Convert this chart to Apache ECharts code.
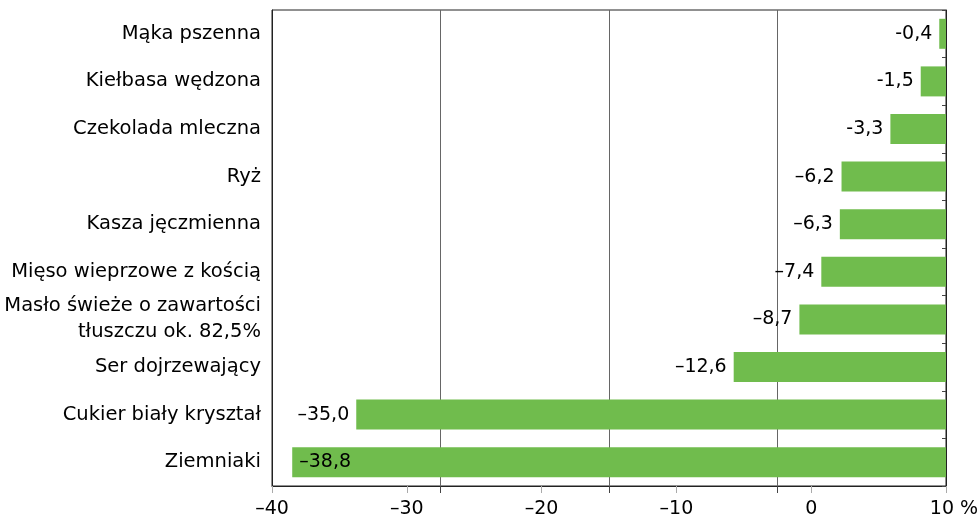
<!DOCTYPE html>
<html>
<head>
<meta charset="utf-8">
<script src="https://cdn.jsdelivr.net/npm/echarts@6/dist/echarts.min.js"></script>
<style>html,body{margin:0;padding:0;background:#fff;overflow:hidden}#c{width:979px;height:519px}</style>
</head>
<body>
<div id="c"></div>
<script>
const categories = ['Mąka pszenna','Kiełbasa wędzona','Czekolada mleczna','Ryż','Kasza jęczmienna','Mięso wieprzowe z kością','Masło świeże o zawartości\ntłuszczu ok. 82,5%','Ser dojrzewający','Cukier biały kryształ','Ziemniaki'];
const values = [-0.4,-1.5,-3.3,-6.2,-6.3,-7.4,-8.7,-12.6,-35.0,-38.8];
const valueLabels = ['-0,4','-1,5','-3,3','–6,2','–6,3','–7,4','–8,7','–12,6','–35,0','–38,8'];
const tickLabels = ['–40','–30','–20','–10','0','10 %'];

const FONT = '"DejaVu Sans", sans-serif';
const chart = echarts.init(document.getElementById('c'));
chart.setOption({
  animation: false,
  textStyle: {fontFamily: FONT},
  grid: {left: 272, right: 33, top: 10, bottom: 33, show: true, borderColor: '#222', borderWidth: 1,
         containLabel: false, outerBoundsMode: 'none'},
  xAxis: [
    {type: 'value', position: 'bottom', min: -40, max: 0, interval: 10,
     axisLine: {show: true, onZero: false, lineStyle: {color: '#222', width: 1}},
     axisTick: {show: true, length: 7, lineStyle: {color: '#444'}},
     axisLabel: {show: false},
     splitLine: {show: true, lineStyle: {color: '#666', width: 1}}},
    {type: 'value', position: 'bottom', min: 0, max: 5, interval: 1,
     axisLine: {show: false, onZero: false},
     axisTick: {show: true, length: 7, lineStyle: {color: '#aaa'}},
     splitLine: {show: false},
     axisLabel: {show: true, color: '#000', fontSize: 19, margin: 14, fontFamily: FONT,
       formatter: function (v) {
         const t = tickLabels[Math.round(v)];
         return Math.round(v) === tickLabels.length - 1 ? '{p|' + t + '}' : t;
       },
       rich: {p: {fontSize: 19, color: '#000', fontFamily: FONT, padding: [0, 0, 0, 16]}}}}
  ],
  yAxis: [
    {type: 'category', data: categories, inverse: true, position: 'left',
     axisLine: {show: true, onZero: false, lineStyle: {color: '#222'}},
     axisTick: {show: false},
     axisLabel: {color: '#000', fontSize: 19.5, margin: 11, lineHeight: 26, align: 'right', fontFamily: FONT},
     splitLine: {show: false}},
    {type: 'category', data: categories, inverse: true, position: 'right',
     axisLine: {show: true, onZero: false, lineStyle: {color: '#222'}},
     axisTick: {show: true, inside: true, length: 4, lineStyle: {color: '#444'}},
     axisLabel: {show: false},
     splitLine: {show: false}}
  ],
  series: [{
    type: 'bar', xAxisIndex: 0, yAxisIndex: 0,
    data: values.map(function (v, i) {
      const inside = i === values.length - 1;
      return {value: v, label: {position: inside ? 'insideLeft' : 'left', distance: 7}};
    }),
    barWidth: 30,
    itemStyle: {color: '#70BC4D'},
    label: {show: true, color: '#000', fontSize: 19, fontFamily: FONT,
      formatter: function (p) { return valueLabels[p.dataIndex]; }}
  }]
});
</script>
</body>
</html>
